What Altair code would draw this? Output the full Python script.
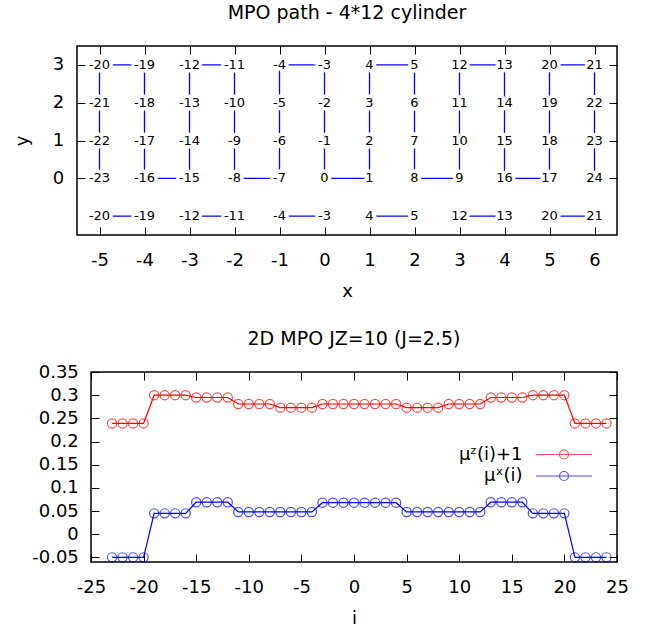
import altair as alt
import pandas as pd

FONT = "DejaVu Sans"

# ---------------- panel 1: MPO path on a 4*12 cylinder ----------------
site_index = list(range(-23, 25))
site_x = [-5, -5, -5, -5, -4, -4, -4, -4, -3, -3, -3, -3,
          -2, -2, -2, -2, -1, -1, -1, -1, 0, 0, 0, 0,
          1, 1, 1, 1, 2, 2, 2, 2, 3, 3, 3, 3,
          4, 4, 4, 4, 5, 5, 5, 5, 6, 6, 6, 6]
site_y = [0, 1, 2, 3, 3, 2, 1, 0, 0, 1, 2, 3,
          3, 2, 1, 0, 0, 1, 2, 3, 3, 2, 1, 0,
          0, 1, 2, 3, 3, 2, 1, 0, 0, 1, 2, 3,
          3, 2, 1, 0, 0, 1, 2, 3, 3, 2, 1, 0]
wrap_row = 3          # this row is repeated below (periodic direction)
wrap_copy_row = -1
x_ticks_top = [-5, -4, -3, -2, -1, 0, 1, 2, 3, 4, 5, 6]
y_ticks_top = [0, 1, 2, 3]

# ---------------- panel 2: local magnetisation ----------------
i_values = list(range(-23, 25))
mu_z_plus1 = [0.239, 0.239, 0.239, 0.239,
              0.300, 0.300, 0.300, 0.300,
              0.295, 0.295, 0.295, 0.295,
              0.281, 0.281, 0.281, 0.281,
              0.273, 0.273, 0.273, 0.273,
              0.281, 0.281, 0.281, 0.281, 0.281, 0.281, 0.281, 0.281,
              0.273, 0.273, 0.273, 0.273,
              0.281, 0.281, 0.281, 0.281,
              0.295, 0.295, 0.295, 0.295,
              0.300, 0.300, 0.300, 0.300,
              0.239, 0.239, 0.239, 0.239]
mu_x = [-0.050, -0.050, -0.050, -0.050,
        0.045, 0.045, 0.045, 0.045,
        0.069, 0.069, 0.069, 0.069,
        0.048, 0.048, 0.048, 0.048, 0.048, 0.048, 0.048, 0.048,
        0.068, 0.068, 0.068, 0.068, 0.068, 0.068, 0.068, 0.068,
        0.048, 0.048, 0.048, 0.048, 0.048, 0.048, 0.048, 0.048,
        0.069, 0.069, 0.069, 0.069,
        0.045, 0.045, 0.045, 0.045,
        -0.050, -0.050, -0.050, -0.050]
x_ticks_bottom = [-25, -20, -15, -10, -5, 0, 5, 10, 15, 20, 25]
y_ticks_bottom = [-0.05, 0, 0.05, 0.1, 0.15, 0.2, 0.25, 0.3, 0.35]
series_names = ["μᶻ(i)+1", "μˣ(i)"]
series_colors = ["#ff0000", "#0000ff"]

# ---------------- tables ----------------
lab_rows = []
for s, x, y in zip(site_index, site_x, site_y):
    lab_rows.append({"x": x, "y": y, "label": str(s)})
    if y == wrap_row:
        lab_rows.append({"x": x, "y": wrap_copy_row, "label": str(s)})
lab_df = pd.DataFrame(lab_rows)

seg_rows = []
for k in range(len(site_index) - 1):
    xa, ya, xb, yb = site_x[k], site_y[k], site_x[k + 1], site_y[k + 1]
    seg_rows.append({"x": xa, "y": ya, "x2": xb, "y2": yb})
    if ya == wrap_row and yb == wrap_row:
        seg_rows.append({"x": xa, "y": wrap_copy_row, "x2": xb, "y2": wrap_copy_row})
seg_df = pd.DataFrame(seg_rows)

mag_df = pd.DataFrame(
    {"i": i_values + i_values,
     "value": mu_z_plus1 + mu_x,
     "series": [series_names[0]] * len(i_values) + [series_names[1]] * len(i_values)}
)

# ---------------- helpers ----------------
INWARD = alt.ExprRef("-8")
common = dict(labelFont=FONT, labelFontSize=18, labelColor="black",
              tickColor="black", tickWidth=1, tickSize=INWARD,
              domain=False, grid=False,
              titleFont=FONT, titleFontSize=18, titleFontWeight="normal",
              titleColor="black")


def main_axis(orient, values, title, lab_pad, title_pad):
    return alt.Axis(orient=orient, values=values, labelExpr="'' + datum.value",
                    title=title, labelPadding=lab_pad, titlePadding=title_pad,
                    labelFlush=False, labelOverlap=False, **common)


def mirror_axis(orient, values):
    return alt.Axis(orient=orient, values=values, labels=False, title=None,
                    **common)


def panel_title(text, offset):
    return alt.TitleParams(text, font=FONT, fontSize=19, fontWeight="normal",
                           color="black", offset=offset, baseline="alphabetic")


def spacer(w):
    # empty, invisible cell used only to shift a panel horizontally
    return alt.Chart(pd.DataFrame({"s": [0]})).mark_point(opacity=0).properties(
        width=w, height=1, view=alt.ViewBackground(stroke="transparent"))


# ---------------- top chart ----------------
xs_top = alt.Scale(domain=[-5.5, 6.5], nice=False, zero=False)
ys_top = alt.Scale(domain=[-1.5, 3.5], nice=False, zero=False)

segments = alt.Chart(seg_df).mark_rule(color="#0000ff", strokeWidth=1.3).encode(
    x=alt.X("x:Q", scale=xs_top, axis=mirror_axis("top", x_ticks_top)),
    x2="x2:Q",
    y=alt.Y("y:Q", scale=ys_top, axis=mirror_axis("right", y_ticks_top)),
    y2="y2:Q",
)
halo = alt.Chart(lab_df).mark_text(
    font=FONT, fontSize=13, fill="white", stroke="white", strokeWidth=7,
    strokeJoin="round", baseline="middle", align="center"
).encode(
    x=alt.X("x:Q", scale=xs_top, axis=None),
    y=alt.Y("y:Q", scale=ys_top, axis=None),
    text="label:N",
)
labels = alt.Chart(lab_df).mark_text(
    font=FONT, fontSize=13, color="black", baseline="middle", align="center"
).encode(
    x=alt.X("x:Q", scale=xs_top, axis=main_axis("bottom", x_ticks_top, "x", 24.3, 13)),
    y=alt.Y("y:Q", scale=ys_top, axis=main_axis("left", y_ticks_top, "y", 21.4, 21)),
    text="label:N",
)
top = alt.layer(segments, halo, labels).resolve_axis(
    x="independent", y="independent"
).properties(width=540, height=189, title=panel_title("MPO path - 4*12 cylinder", 8))

# ---------------- bottom chart ----------------
xs_bot = alt.Scale(domain=[-25, 25], nice=False, zero=False)
ys_bot = alt.Scale(domain=[-0.06, 0.35], nice=False, zero=False)
legend_symbol = "M-5.6,0L5.6,0M0.9,0A0.9,0.9,0,1,1,-0.9,0A0.9,0.9,0,1,1,0.9,0"
legend = alt.Legend(title=None, orient="none", legendX=464, legendY=73.5,
                    direction="vertical", labelAlign="right",
                    labelOffset=alt.ExprRef("-50.5"),
                    symbolType=legend_symbol, symbolSize=100,
                    symbolStrokeWidth=1.2, symbolFillColor="transparent",
                    labelFont=FONT, labelFontSize=18, labelColor="black",
                    rowPadding=3.5, padding=0)
stroke_enc = alt.Stroke("series:N",
                        scale=alt.Scale(domain=series_names, range=series_colors),
                        legend=legend)

lines = alt.Chart(mag_df).mark_line(strokeWidth=1.2).encode(
    x=alt.X("i:Q", scale=xs_bot, axis=main_axis("bottom", x_ticks_bottom, "i", 24.6, 13)),
    y=alt.Y("value:Q", scale=ys_bot, axis=main_axis("left", y_ticks_bottom, None, 20.7, 2)),
    stroke=stroke_enc,
)
points = alt.Chart(mag_df).mark_point(filled=False, size=85, strokeWidth=1.2).encode(
    x=alt.X("i:Q", scale=xs_bot, axis=mirror_axis("top", x_ticks_bottom)),
    y=alt.Y("value:Q", scale=ys_bot, axis=mirror_axis("right", y_ticks_bottom)),
    stroke=stroke_enc,
)
bottom = alt.layer(lines, points).resolve_axis(
    x="independent", y="independent"
).properties(width=526, height=190, title=panel_title("2D MPO JZ=10 (J=2.5)", -1))

row_top = alt.hconcat(spacer(1), top, spacing=0)
row_bottom = alt.hconcat(spacer(21), bottom, spacing=0).resolve_scale(
    stroke="independent").resolve_legend(stroke="independent")

chart = alt.vconcat(row_top, row_bottom, spacing=27).resolve_scale(
    stroke="independent").resolve_legend(stroke="independent").properties(
    padding={"left": 5, "top": 2, "right": 5, "bottom": 0},
    background="white",
).configure_view(stroke="black", strokeWidth=1.5)

chart.save("out.html", embed_options={"renderer": "svg", "actions": False})
